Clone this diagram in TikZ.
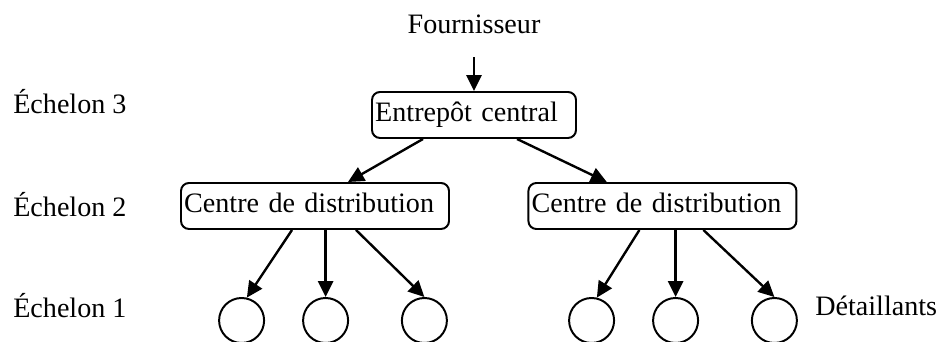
\documentclass[tikz,border=0pt]{standalone}
\usepackage{fontspec}
\setmainfont{Liberation Serif}
\usetikzlibrary{arrows.meta}
\tikzset{
  every node/.style={font=\fontsize{20}{24}\selectfont},
  depot/.style={draw,line width=1.4pt,rounded corners=0.2cm,minimum height=1.15cm,
    align=left,inner xsep=0.08cm,text height=0.5cm,text depth=0.15cm},
  shop/.style={draw,circle,line width=1.4pt,minimum size=1.125cm,inner sep=0pt},
  flow/.style={line width=1.7pt,-{Triangle[length=0.4cm,width=0.38cm]}}
}
\begin{document}
\begin{tikzpicture}
            \useasboundingbox (0,0) rectangle (23.4,8.55);
            \node[anchor=base] (four) at (11.85,7.7){Fournisseur};
            \node[depot,text width=4.94cm] (ent) at (11.85,5.675){Entrepôt central};
            \node[depot,text width=6.54cm] (cd1) at (7.875,3.4){Centre de distribution};
            \node[depot,text width=6.54cm] (cd2) at (16.56,3.4){Centre de distribution};
            \node[shop] (d1) at (6.04,0.5375){};
            \node[shop] (d2) at (8.14,0.5375){};
            \node[shop] (d3) at (10.61,0.5375){};
            \node[shop] (d4) at (14.79,0.5375){};
            \node[shop] (d5) at (16.89,0.5375){};
            \node[shop] (d6) at (19.36,0.5375){};
            \node[anchor=base west,inner sep=0pt] (e3) at (0.325,5.7){Échelon 3};
            \node[anchor=base west,inner sep=0pt] (e2) at (0.325,3.125){Échelon 2};
            \node[anchor=base west,inner sep=0pt] (e1) at (0.325,0.6){Échelon 1};
            \node[anchor=base west,inner sep=0pt] (det) at (20.375,0.65){Détaillants};
            \draw[flow] ([yshift=-0.45cm]four.south) -- (ent.north);
            \draw[flow] ([xshift=-1.275cm]ent.south) -- ([xshift=0.825cm]cd1.north);
            \draw[flow] ([xshift=1.075cm]ent.south) -- ([xshift=-1.39cm]cd2.north);
            \draw[flow] ([xshift=-0.575cm]cd1.south) -- (d1.77);
            \draw[flow] (cd1.south -| d2.north) -- (d2.north);
            \draw[flow] ([xshift=1.025cm]cd1.south) -- (d3.north);
            \draw[flow] ([xshift=-0.575cm]cd2.south) -- (d4.77);
            \draw[flow] (cd2.south -| d5.north) -- (d5.north);
            \draw[flow] ([xshift=1.025cm]cd2.south) -- (d6.north);
        \end{tikzpicture}
\end{document}
